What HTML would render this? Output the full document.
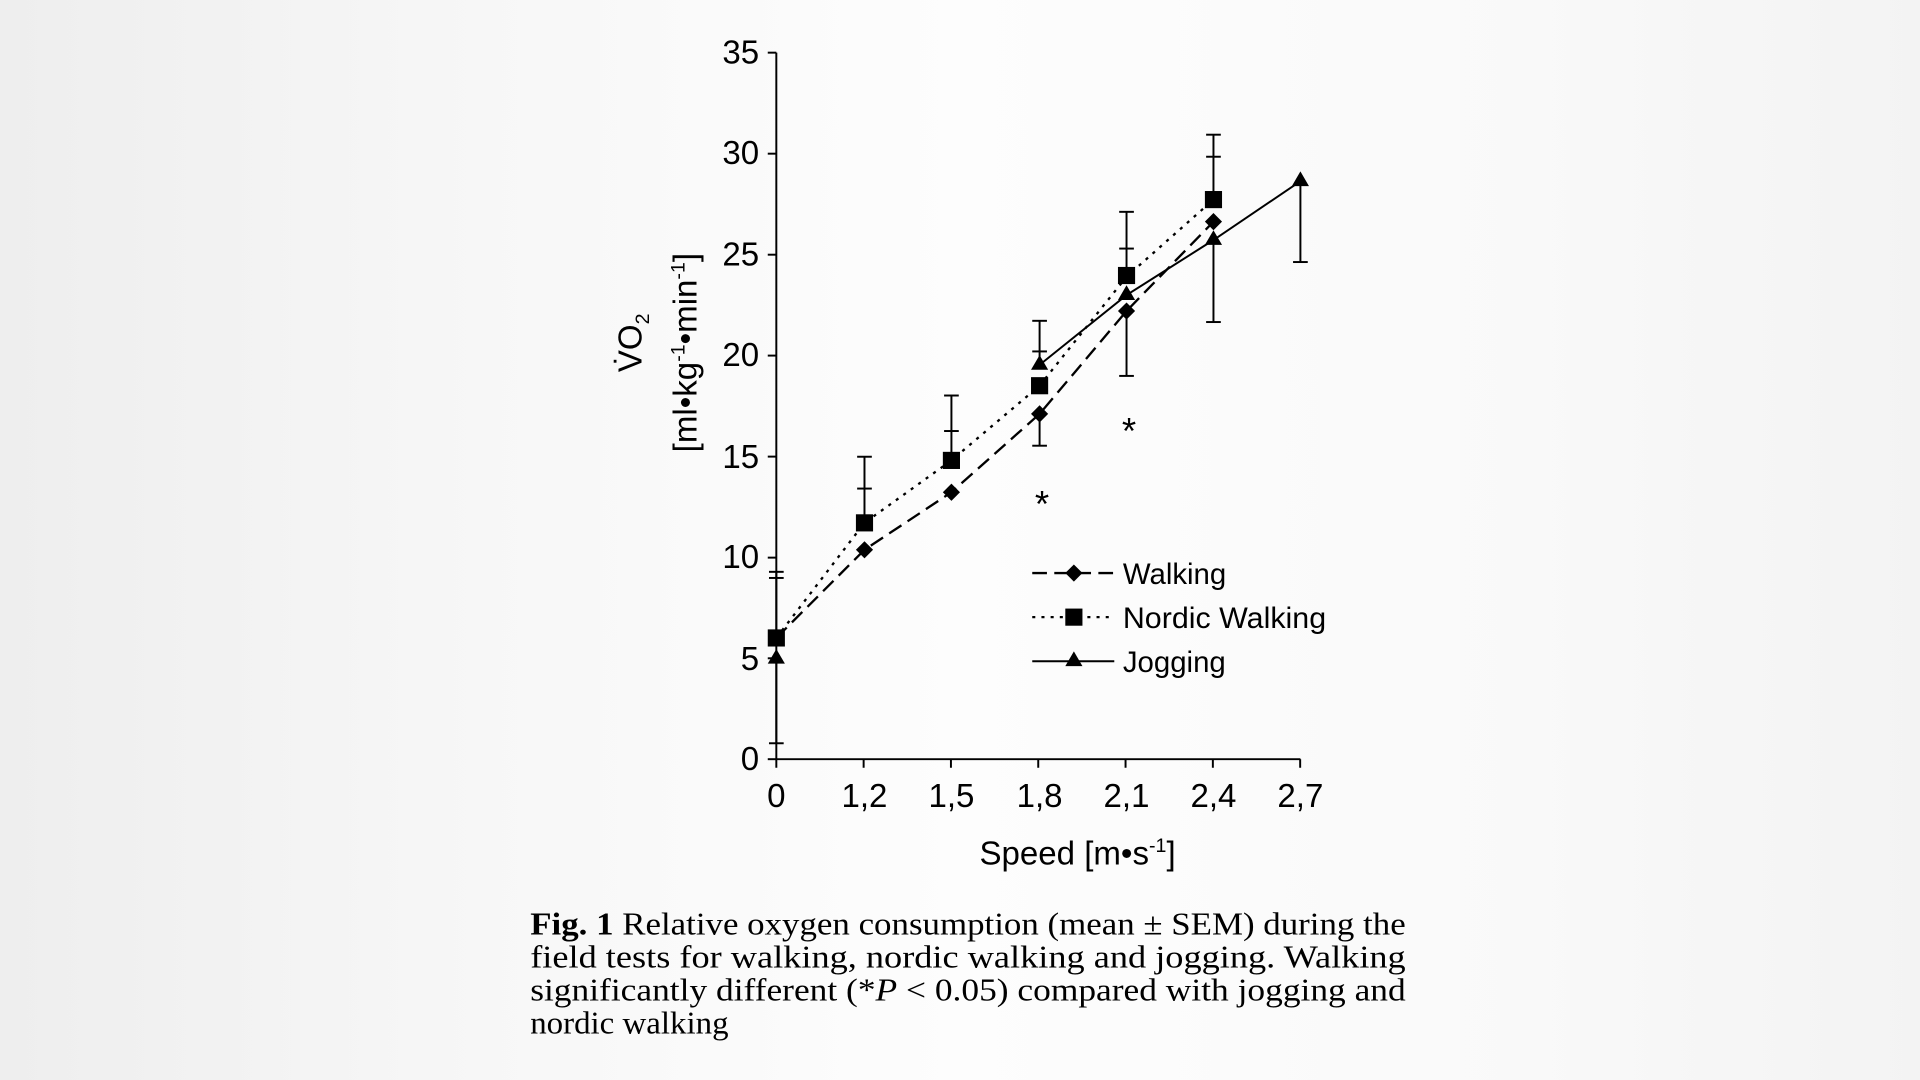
<!DOCTYPE html>
<html><head><meta charset="utf-8"><style>
html,body{margin:0;padding:0;width:1920px;height:1080px;overflow:hidden;}
body{background:linear-gradient(90deg,#eeeeee 0%,#f7f7f7 25%,#fdfdfd 50%,#f9f9f9 80%,#f3f3f3 100%);}
svg{display:block}
</style></head><body>
<svg width="1920" height="1080" viewBox="0 0 1568 882" xmlns="http://www.w3.org/2000/svg">
<g stroke="#000" stroke-width="1.6" fill="none">
<line x1="634" y1="43" x2="634" y2="620"/>
<line x1="634" y1="620" x2="1062" y2="620"/>
<line x1="627" y1="43" x2="634" y2="43"/>
<line x1="627" y1="125.5" x2="634" y2="125.5"/>
<line x1="627" y1="208" x2="634" y2="208"/>
<line x1="627" y1="290.4" x2="634" y2="290.4"/>
<line x1="627" y1="372.9" x2="634" y2="372.9"/>
<line x1="627" y1="455.4" x2="634" y2="455.4"/>
<line x1="627" y1="537.6" x2="634" y2="537.6"/>
<line x1="627" y1="620" x2="634" y2="620"/>
<line x1="634" y1="620" x2="634" y2="627"/>
<line x1="705.3" y1="620" x2="705.3" y2="627"/>
<line x1="776.6" y1="620" x2="776.6" y2="627"/>
<line x1="847.9" y1="620" x2="847.9" y2="627"/>
<line x1="919.2" y1="620" x2="919.2" y2="627"/>
<line x1="990.5" y1="620" x2="990.5" y2="627"/>
<line x1="1061.8" y1="620" x2="1061.8" y2="627"/>
</g>
<g font-family="Liberation Sans, sans-serif" font-size="27" fill="#000" text-anchor="end">
<text x="620" y="52">35</text><text x="620" y="134">30</text><text x="620" y="217">25</text>
<text x="620" y="299">20</text><text x="620" y="382">15</text><text x="620" y="464">10</text>
<text x="620" y="547">5</text><text x="620" y="629">0</text>
</g>
<g font-family="Liberation Sans, sans-serif" font-size="27" fill="#000" text-anchor="middle">
<text x="634" y="659">0</text><text x="706" y="659">1,2</text><text x="777" y="659">1,5</text>
<text x="849" y="659">1,8</text><text x="920" y="659">2,1</text><text x="991" y="659">2,4</text>
<text x="1062" y="659">2,7</text>
<text x="880" y="706">Speed [m•s<tspan font-size="16" dy="-10">-1</tspan><tspan dy="10">]</tspan></text>
</g>
<g font-family="Liberation Sans, sans-serif" font-size="27" fill="#000" text-anchor="middle">
<text transform="translate(524,280) rotate(-90)">V̇O<tspan font-size="16" dy="6">2</tspan></text>
<text transform="translate(569,288) rotate(-90)">[ml•kg<tspan font-size="16" dy="-10">-1</tspan><tspan dy="10">•min</tspan><tspan font-size="16" dy="-10">-1</tspan><tspan dy="10">]</tspan></text>
</g>
<g stroke="#000" stroke-width="1.6" fill="none">
<line x1="634" y1="521" x2="634" y2="467"/><line x1="628" y1="467" x2="640" y2="467"/><line x1="628" y1="472" x2="640" y2="472"/>
<line x1="634" y1="538" x2="634" y2="607"/><line x1="628" y1="607" x2="640" y2="607"/>
<line x1="706" y1="427" x2="706" y2="373"/><line x1="700" y1="373" x2="712" y2="373"/><line x1="700" y1="399" x2="712" y2="399"/>
<line x1="777" y1="377" x2="777" y2="323"/><line x1="771" y1="323" x2="783" y2="323"/><line x1="771" y1="352" x2="783" y2="352"/>
<line x1="849" y1="298" x2="849" y2="262"/><line x1="843" y1="262" x2="855" y2="262"/><line x1="843" y1="287" x2="855" y2="287"/>
<line x1="849" y1="338" x2="849" y2="364"/><line x1="843" y1="364" x2="855" y2="364"/>
<line x1="920" y1="225" x2="920" y2="173"/><line x1="914" y1="173" x2="926" y2="173"/><line x1="914" y1="203" x2="926" y2="203"/>
<line x1="920" y1="254" x2="920" y2="307"/><line x1="914" y1="307" x2="926" y2="307"/>
<line x1="991" y1="163" x2="991" y2="110"/><line x1="985" y1="110" x2="997" y2="110"/><line x1="985" y1="128" x2="997" y2="128"/>
<line x1="991" y1="196" x2="991" y2="263"/><line x1="985" y1="263" x2="997" y2="263"/>
<line x1="1062" y1="148" x2="1062" y2="214"/><line x1="1056" y1="214" x2="1068" y2="214"/>
</g>
<polyline points="634,521 706,449 777,402 849,338 920,254 991,181" fill="none" stroke="#000" stroke-width="1.9" stroke-dasharray="12,6"/>
<polyline points="634,521 706,427 777,376 849,315 920,226 991,163" fill="none" stroke="#000" stroke-width="1.9" stroke-dasharray="2.5,5"/>
<polyline points="849,298 920,241 991,196 1062,148" fill="none" stroke="#000" stroke-width="1.6"/>
<g fill="#000">
<rect x="627" y="514" width="14" height="14"/>
<path d="M634,530 l7,12 h-14z"/>
<path d="M706,442 l7,7 l-7,7 l-7,-7z"/><rect x="699" y="420" width="14" height="14"/>
<path d="M777,395 l7,7 l-7,7 l-7,-7z"/><rect x="770" y="369" width="14" height="14"/>
<path d="M849,331 l7,7 l-7,7 l-7,-7z"/><rect x="842" y="308" width="14" height="14"/><path d="M849,290 l7,12 h-14z"/>
<path d="M920,247 l7,7 l-7,7 l-7,-7z"/><rect x="913" y="218" width="14" height="14"/><path d="M920,233 l7,12 h-14z"/>
<path d="M991,174 l7,7 l-7,7 l-7,-7z"/><rect x="984" y="156" width="14" height="14"/><path d="M991,188 l7,12 h-14z"/>
<path d="M1062,140 l7,12 h-14z"/>
</g>
<g font-family="Liberation Sans, sans-serif" font-size="30" fill="#000" text-anchor="middle">
<text x="851" y="422">*</text><text x="922" y="362">*</text>
</g>
<line x1="843" y1="468" x2="910" y2="468" stroke="#000" stroke-width="1.9" stroke-dasharray="12,6"/>
<path d="M877,461 l7,7 l-7,7 l-7,-7z" fill="#000"/>
<line x1="843" y1="504" x2="910" y2="504" stroke="#000" stroke-width="1.9" stroke-dasharray="2.5,5"/>
<rect x="870" y="497" width="14" height="14" fill="#000"/>
<line x1="843" y1="540" x2="910" y2="540" stroke="#000" stroke-width="1.6"/>
<path d="M877,532 l7,12 h-14z" fill="#000"/>
<g font-family="Liberation Sans, sans-serif" font-size="24" fill="#000">
<text x="917" y="477">Walking</text>
<text x="917" y="513" textLength="166" lengthAdjust="spacingAndGlyphs">Nordic Walking</text>
<text x="917" y="549">Jogging</text>
</g>
<g font-family="Liberation Serif, serif" font-size="26" fill="#000">
<text x="433" y="763" textLength="715" lengthAdjust="spacingAndGlyphs"><tspan font-weight="bold">Fig. 1</tspan> Relative oxygen consumption (mean ± SEM) during the</text>
<text x="433" y="790" textLength="715" lengthAdjust="spacingAndGlyphs">field tests for walking, nordic walking and jogging. Walking</text>
<text x="433" y="817" textLength="715" lengthAdjust="spacingAndGlyphs">significantly different (*<tspan font-style="italic">P</tspan> &lt; 0.05) compared with jogging and</text>
<text x="433" y="844" textLength="162" lengthAdjust="spacingAndGlyphs">nordic walking</text>
</g>
</svg>
</body></html>
